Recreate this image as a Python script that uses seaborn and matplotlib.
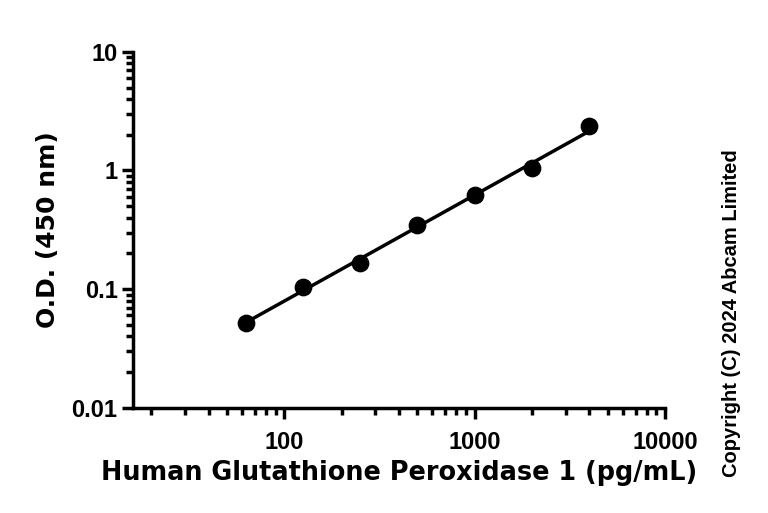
import numpy as np
import pandas as pd
import matplotlib
matplotlib.use("Agg")
import matplotlib.pyplot as plt
import seaborn as sns
from matplotlib.ticker import LogLocator, FixedLocator, NullFormatter

# Data
concentration = [62.5, 125, 250, 500, 1000, 2000, 4000]
od_450 = [0.052, 0.104, 0.167, 0.345, 0.618, 1.04, 2.35]
x_ticks = [100, 1000, 10000]
x_tick_labels = ["100", "1000", "10000"]
y_ticks = [0.01, 0.1, 1, 10]
y_tick_labels = ["0.01", "0.1", "1", "10"]

sns.set_style("ticks")
plt.rcParams['font.family'] = ['DejaVu Sans']
plt.rcParams['text.color'] = 'black'
plt.rcParams['axes.labelcolor'] = 'black'
plt.rcParams['xtick.color'] = 'black'
plt.rcParams['ytick.color'] = 'black'

df = pd.DataFrame({"conc": concentration, "od": od_450})

# log-log linear fit
coef = np.polyfit(np.log10(df["conc"]), np.log10(df["od"]), 1)
fit_x = np.array([min(concentration), max(concentration)])
fit_df = pd.DataFrame({"conc": fit_x, "od": 10 ** np.polyval(coef, np.log10(fit_x))})

fig = plt.figure(figsize=(7.68, 5.13), dpi=100)
ax = fig.add_axes([0.173, 0.205, 0.693, 0.694])

sns.lineplot(data=fit_df, x="conc", y="od", ax=ax, color="black", linewidth=2.5)
sns.scatterplot(data=df, x="conc", y="od", ax=ax, color="black", s=140, edgecolor="black", zorder=3)

ax.set_xscale("log")
ax.set_yscale("log")
ax.set_xlim(16, 10000)
ax.set_ylim(0.01, 10)

ax.xaxis.set_major_locator(FixedLocator(x_ticks))
ax.set_xticklabels(x_tick_labels)
ax.yaxis.set_major_locator(FixedLocator(y_ticks))
ax.set_yticklabels(y_tick_labels)
ax.xaxis.set_minor_locator(LogLocator(base=10, subs=np.arange(2, 10)))
ax.yaxis.set_minor_locator(LogLocator(base=10, subs=np.arange(2, 10)))
ax.xaxis.set_minor_formatter(NullFormatter())
ax.yaxis.set_minor_formatter(NullFormatter())

for side in ["top", "right"]:
    ax.spines[side].set_visible(False)
for side in ["left", "bottom"]:
    ax.spines[side].set_linewidth(2.5)
    ax.spines[side].set_color("black")

ax.tick_params(axis="both", which="major", length=8, width=2.5, color="black",
               labelsize=17, labelcolor="black")
ax.tick_params(axis="both", which="minor", length=5, width=2.5, color="black")
ax.tick_params(axis="x", which="major", pad=9)
ax.tick_params(axis="y", which="major", pad=3)
for lab in ax.get_xticklabels() + ax.get_yticklabels():
    lab.set_fontweight("bold")
    lab.set_family(["Liberation Sans", "DejaVu Sans"])

ax.set_xlabel("Human Glutathione Peroxidase 1 (pg/mL)", fontsize=18.4, fontweight="bold",
              labelpad=4, color="black")
ax.set_ylabel("O.D. (450 nm)", fontsize=18, fontweight="bold", labelpad=8, color="black")

fig.text(0.953, 0.39, "Copyright (C) 2024 Abcam Limited", rotation=90,
         ha="center", va="center", fontsize=14.5, fontweight="bold", color="black",
         family=["Liberation Sans", "DejaVu Sans"])

fig.savefig("out.png", dpi=100)
